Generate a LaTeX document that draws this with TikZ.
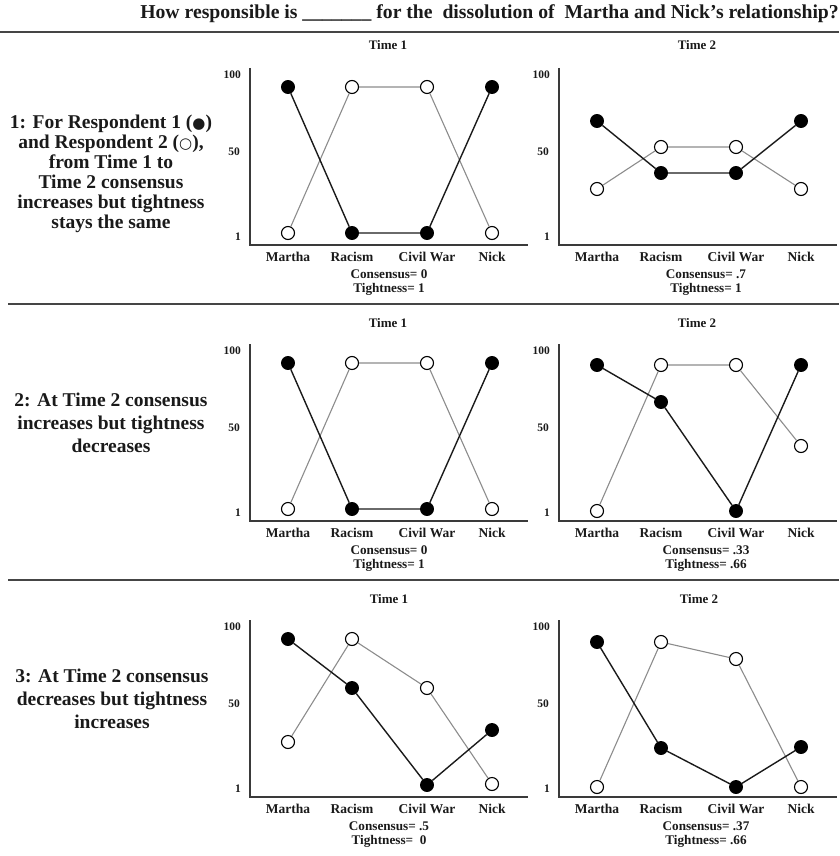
\documentclass[tikz,border=0pt]{standalone}
\usepackage{fontspec}
\setmainfont{Liberation Serif}
\newfontfamily\symfont{DejaVu Sans}
\usepackage{tikz}
\usetikzlibrary{positioning}
\definecolor{InkDark}{HTML}{1A1A1A}
\definecolor{AxisGray}{HTML}{3A3A3A}
\definecolor{RuleGray}{HTML}{454545}
\definecolor{SeriesGray}{HTML}{8C8C8C}

\tikzset{
  axisline/.style={draw=AxisGray, line width=1.4pt},
  ruleline/.style={draw=RuleGray, line width=1.8pt},
  ticklabel/.style={anchor=east, inner sep=0pt, text=InkDark, font=\bfseries\fontsize{11.5}{12}\selectfont},
  catlabel/.style={inner sep=0pt, text=InkDark, font=\bfseries\fontsize{13.5}{14}\selectfont},
  timelabel/.style={inner sep=0pt, text=InkDark, font=\bfseries\fontsize{13}{14}\selectfont},
  scorelabel/.style={inner sep=0pt, align=center, text=InkDark, font=\bfseries\fontsize{13.2}{14}\selectfont},
  casetext/.style={inner sep=0pt, align=center, text=InkDark, font=\bfseries\fontsize{19.5}{20}\selectfont},
  ptfull/.style={circle, draw=black, fill=black, line width=0.9pt, minimum size=13pt, inner sep=0pt},
  ptopen/.style={circle, draw=black, fill=white, line width=1.1pt, minimum size=13pt, inner sep=0pt},
  linefull/.style={draw=InkDark, line width=1.4pt},
  lineopen/.style={draw=SeriesGray, line width=1.1pt}
}
\newcommand\respmark[1]{{\symfont\fontsize{15}{15}\selectfont #1}}

% one rating panel: name, axis x, row offset, filled ys, open ys
\newcommand\ratingpanel[5]{%
  \draw[axisline] (#2,68+#3) -- (#2,245+#3) -- (#2+278,245+#3);
  \node[ticklabel] (#1t100) at (#2-9,75+#3) {100};
  \node[ticklabel] (#1t50) at (#2-10,152+#3) {50};
  \node[ticklabel] (#1t1) at (#2-9,237+#3) {1};
  \foreach \cx/\cat [count=\i] in {38/Martha,102/Racism,177/Civil War,242/Nick}
    \node[catlabel] (#1c\i) at (#2+\cx,257+#3) {\cat};
  \foreach \yy [count=\i] in {#5} {
    \pgfmathsetmacro\cx{{38,102,177,242}[\i-1]}
    \node[ptopen] (#1o\i) at (#2+\cx,#3+\yy) {};
  }
  \foreach \yy [count=\i] in {#4} {
    \pgfmathsetmacro\cx{{38,102,177,242}[\i-1]}
    \node[ptfull] (#1f\i) at (#2+\cx,#3+\yy) {};
  }
  \draw[lineopen] (#1o1) -- (#1o2) -- (#1o3) -- (#1o4);
  \draw[linefull] (#1f1) -- (#1f2) -- (#1f3) -- (#1f4);
}

\begin{document}
\begin{tikzpicture}[x=1pt, y=-1pt]
  \useasboundingbox (0,0) rectangle (839,856);

  % heading
  \node[anchor=east, inner sep=0pt, text=InkDark, font=\bfseries\fontsize{19.7}{21}\selectfont]
    (question) at (839,14) {How responsible is \_\_\_\_\_\_\_ for the\ \ dissolution of\ \ Martha and Nick's relationship?};
  \draw[ruleline] (0,32) -- (839,32);
  \draw[ruleline] (8,304) -- (839,304);
  \draw[ruleline] (8,580) -- (839,580);

  % row 1
  \node[casetext] (case1) at (111,174) {1: For Respondent 1 (\respmark{●})\\and Respondent 2 (\respmark{○}),\\from Time 1 to\\Time 2 consensus\\increases but tightness\\stays the same};
  \node[timelabel] (r1time1) at (388,45) {Time 1};
  \node[timelabel] (r1time2) at (697,45) {Time 2};
  \ratingpanel{ra}{250}{0}{87,233,233,87}{233,87,87,233}
  \ratingpanel{rb}{559}{0}{121,173,173,121}{189,147,147,189}
  \node[scorelabel] (r1score1) at (389,283) {Consensus= 0\\Tightness= 1};
  \node[scorelabel] (r1score2) at (706,283) {Consensus= .7\\Tightness= 1};

  % row 2
  \node[casetext, font=\bfseries\fontsize{19.5}{23}\selectfont] (case2) at (111,423) {2: At Time 2 consensus\\increases but tightness\\decreases};
  \node[timelabel] (r2time1) at (388,323) {Time 1};
  \node[timelabel] (r2time2) at (697,323) {Time 2};
  \ratingpanel{rc}{250}{276}{87,233,233,87}{233,87,87,233}
  \ratingpanel{rd}{559}{276}{89,126,235,89}{235,89,89,170}
  \node[scorelabel] (r2score1) at (389,559) {Consensus= 0\\Tightness= 1};
  \node[scorelabel] (r2score2) at (706,559) {Consensus= .33\\Tightness= .66};

  % row 3
  \node[casetext, font=\bfseries\fontsize{19.5}{23}\selectfont] (case3) at (112,699) {3: At Time 2 consensus\\decreases but tightness\\increases};
  \node[timelabel] (r3time1) at (389,599) {Time 1};
  \node[timelabel] (r3time2) at (699,599) {Time 2};
  \ratingpanel{re}{250}{552}{87,136,233,178}{190,87,136,232}
  \ratingpanel{rf}{559}{552}{90,196,235,195}{235,90,107,235}
  \node[scorelabel] (r3score1) at (389,835) {Consensus= .5\\Tightness=\ \ 0};
  \node[scorelabel] (r3score2) at (706,835) {Consensus= .37\\Tightness= .66};
\end{tikzpicture}
\end{document}
